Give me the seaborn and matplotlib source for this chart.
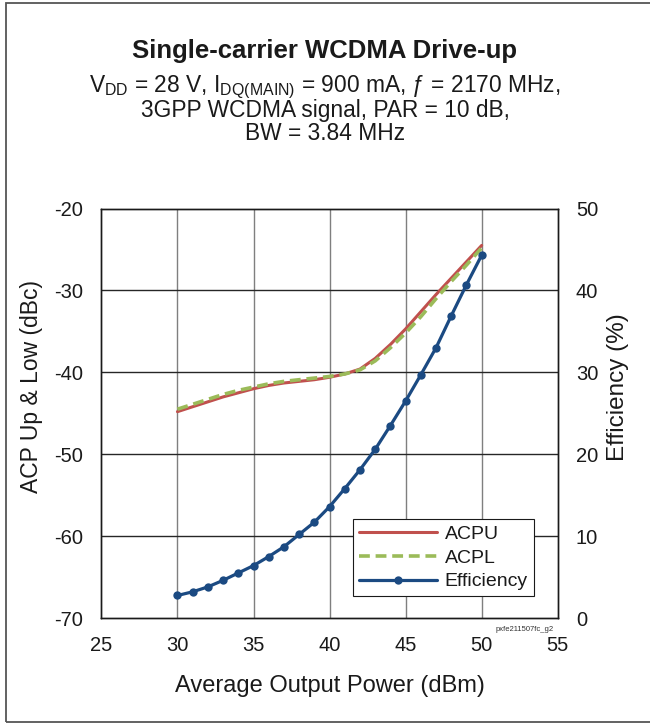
"""Single-carrier WCDMA drive-up chart"""

import matplotlib

matplotlib.use("Agg")
import matplotlib.pyplot as plt
import seaborn as sns
from matplotlib.lines import Line2D
from matplotlib.patches import Rectangle

pout = list(range(30, 51))
acpu = [-44.8, -44.2, -43.6, -43.0, -42.5, -42.0, -41.6, -41.3, -41.1, -40.9, -40.6,
        -40.2, -39.6, -38.3, -36.6, -34.7, -32.6, -30.5, -28.5, -26.5, -24.5]
acpl = [-44.5, -43.9, -43.3, -42.7, -42.2, -41.8, -41.4, -41.1, -40.9, -40.7, -40.5,
        -40.2, -39.7, -38.6, -37.0, -35.2, -33.2, -31.0, -28.9, -26.9, -24.8]
efficiency = [2.75, 3.2, 3.8, 4.6, 5.5, 6.4, 7.5, 8.7, 10.2, 11.7, 13.6,
              15.8, 18.1, 20.6, 23.5, 26.5, 29.7, 33.0, 36.9, 40.7, 44.3]

x_ticks = [25, 30, 35, 40, 45, 50, 55]
acp_ticks = [-70, -60, -50, -40, -30, -20]
eff_ticks = [0, 10, 20, 30, 40, 50]

c_acpu = "#C0504D"
c_acpl = "#9BBB59"
c_eff = "#1B4A82"
ink = "#1a1a1a"

sns.set_style("white")
plt.rcParams["font.family"] = ["Liberation Sans", "DejaVu Sans"]
plt.rcParams["mathtext.fontset"] = "custom"
plt.rcParams["mathtext.rm"] = "Liberation Sans"
plt.rcParams["mathtext.it"] = "Liberation Sans:italic"
plt.rcParams["axes.unicode_minus"] = False

fig = plt.figure(figsize=(6.5, 7.24), dpi=100)
ax = fig.add_axes([0.156, 0.1464, 0.702, 0.5655])
ax2 = ax.twinx()

sns.lineplot(x=pout, y=acpu, ax=ax, color=c_acpu, lw=2.2, zorder=3)
sns.lineplot(x=pout, y=acpl, ax=ax, color=c_acpl, lw=2.6, ls=(0, (3, 1.6)), zorder=3)
sns.lineplot(x=pout, y=efficiency, ax=ax2, color=c_eff, lw=2.3, marker="o",
             markersize=6, markeredgewidth=0, zorder=3)

ax.set_xlim(25, 55)
ax.set_ylim(-70, -20)
ax2.set_ylim(0, 50)
ax.set_xticks(x_ticks)
ax.set_yticks(acp_ticks)
ax2.set_yticks(eff_ticks)

# grid: vertical lines grey, horizontal dark
for xv in x_ticks[1:-1]:
    ax.axvline(xv, color="#7f7f7f", lw=1.0, zorder=1)
for yv in acp_ticks[1:-1]:
    ax.axhline(yv, color="#262626", lw=1.0, zorder=1)

for a in (ax, ax2):
    for s in a.spines.values():
        s.set_color(ink)
        s.set_linewidth(1.0)
    a.tick_params(length=0, labelsize=14.5, colors=ink, pad=13)

ax.set_xlabel("Average Output Power (dBm)", fontsize=17, labelpad=14, color=ink)
ax.set_ylabel("ACP Up & Low (dBc)", fontsize=16.5, color=ink)
ax2.set_ylabel("Efficiency (%)", fontsize=17.5, color=ink)
ax.yaxis.set_label_coords(-0.128, 0.565)
ax2.yaxis.set_label_coords(1.107, 0.565)

handles = [
    Line2D([], [], color=c_acpu, lw=2.2),
    Line2D([], [], color=c_acpl, lw=2.6, ls=(0, (3, 1.6))),
    Line2D([], [], color=c_eff, lw=2.3, marker="o", markersize=6, markeredgewidth=0),
]
leg = ax2.legend(handles, ["ACPU", "ACPL", "Efficiency"], loc="lower right",
                 bbox_to_anchor=(0.947, 0.053), borderaxespad=0, fontsize=14,
                 frameon=True, fancybox=False, framealpha=1, edgecolor=ink,
                 handlelength=4.0, handletextpad=0.4, labelspacing=0.32, borderpad=0.3)
leg.get_frame().set_linewidth(0.8)
for t in leg.get_texts():
    t.set_color(ink)
if ax.get_legend():
    ax.get_legend().remove()

fig.text(0.5, 0.920, "Single-carrier WCDMA Drive-up", ha="center", fontsize=18.5,
         fontweight="bold", color=ink)
fig.text(0.5, 0.873, r"V$_{\mathrm{DD}}$ = 28 V, I$_{\mathrm{DQ(MAIN)}}$ = 900 mA, ƒ = 2170 MHz,",
         ha="center", fontsize=16.4, color=ink)
fig.text(0.5, 0.838, "3GPP WCDMA signal, PAR = 10 dB,", ha="center", fontsize=16.4,
         color=ink)
fig.text(0.5, 0.806, "BW = 3.84 MHz", ha="center", fontsize=16.4, color=ink)
fig.text(0.851, 0.128, "pxfe211507fc_g2", ha="right", fontsize=5.5, color="#333333")

fig.patches.append(Rectangle((0.009, 0.003), 1.2, 0.993, transform=fig.transFigure,
                             fill=False, edgecolor="#555555", lw=1.3))

plt.savefig("out.png", dpi=100)
